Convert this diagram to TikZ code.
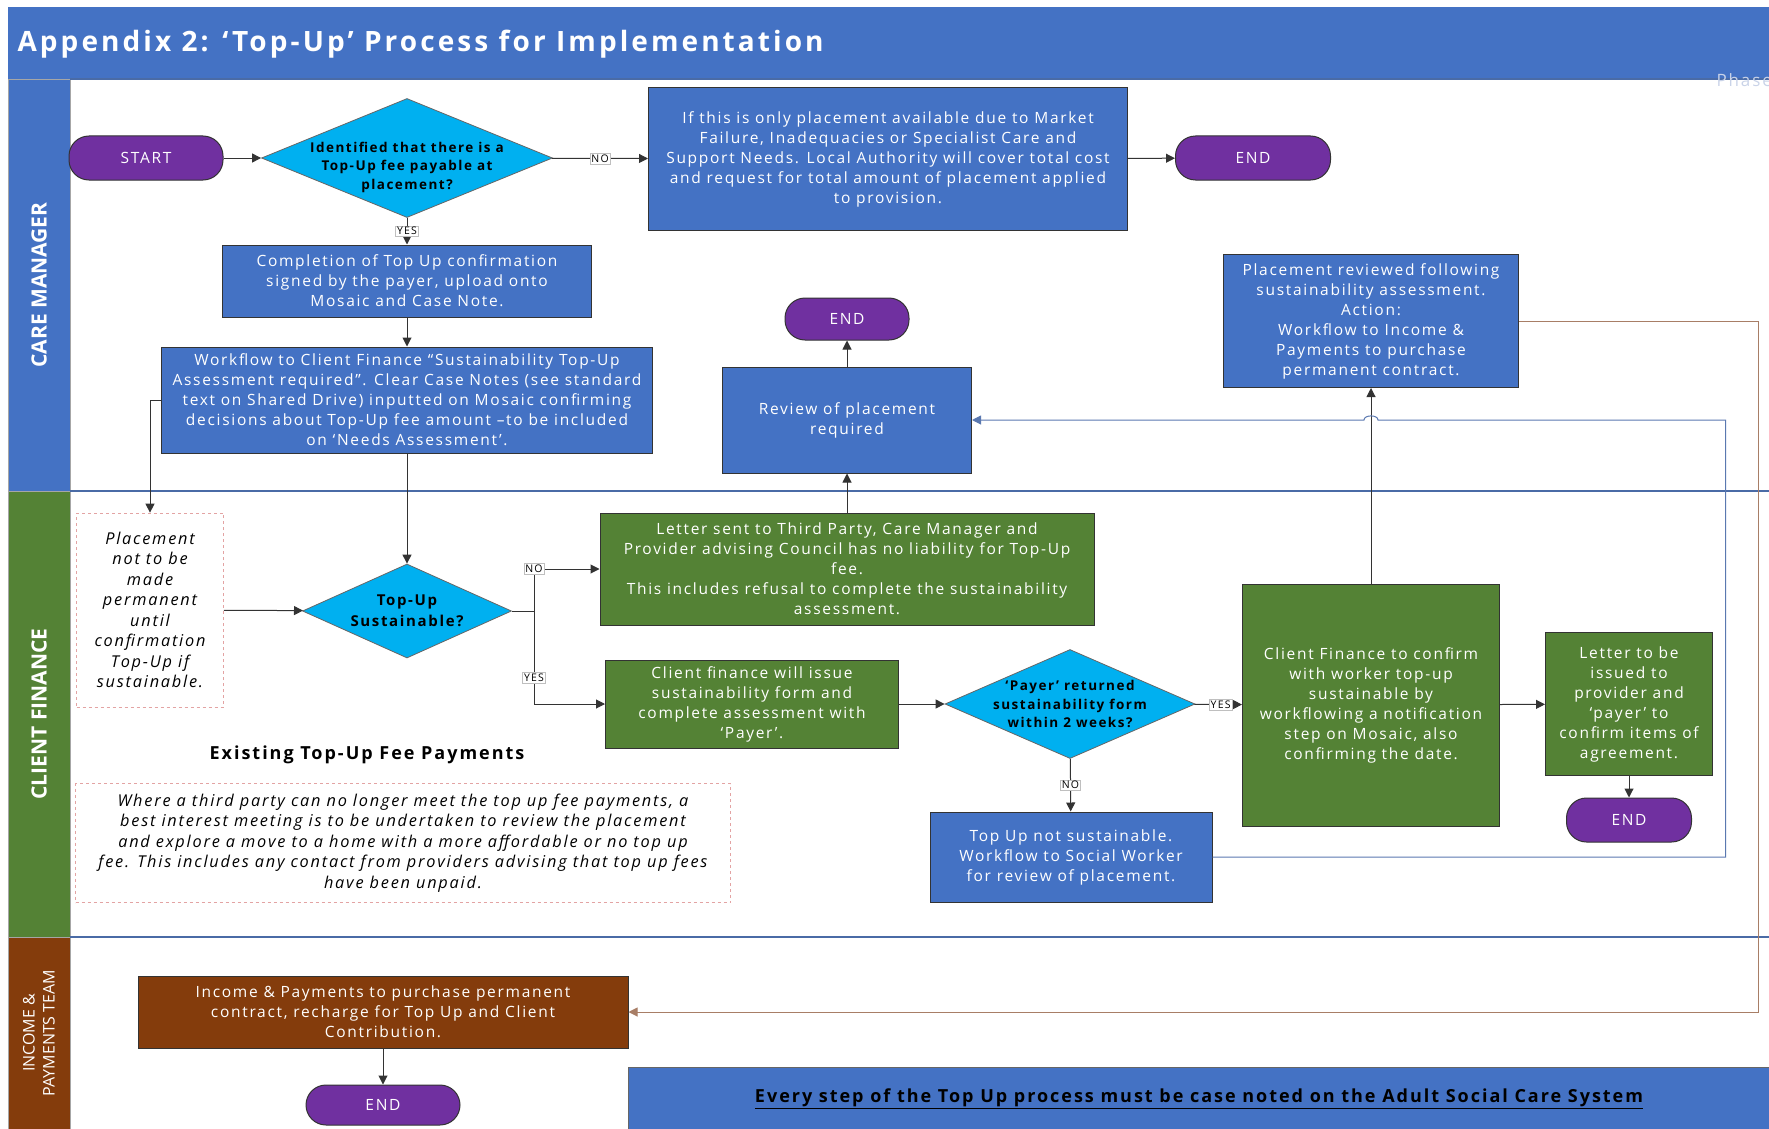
\documentclass[tikz,border=0pt]{standalone}
\usepackage{fontspec}
\setmainfont{Open Sans}[LetterSpace=11]
\newfontfamily\lanefont{Open Sans}
\usetikzlibrary{shapes.geometric,arrows.meta}
\definecolor{cmblue}{HTML}{4472C4}
\definecolor{cfgreen}{HTML}{548235}
\definecolor{ipbrown}{HTML}{843C0C}
\definecolor{endpurple}{HTML}{7030A0}
\definecolor{decblue}{HTML}{00B0F0}
\definecolor{laneline}{HTML}{4A6BA6}
\definecolor{notered}{HTML}{E3A3A3}
\definecolor{backbrown}{HTML}{A87E66}
\definecolor{backblue}{HTML}{5A78B0}
\definecolor{phasegray}{HTML}{C9D3E8}
\begin{document}
\begin{tikzpicture}[x=1pt,y=-1pt,
  box/.style={rectangle,draw=black!80,line width=1pt,fill=cmblue,text=white,align=center,inner sep=0pt,font=\fontsize{15.5}{20}\selectfont},
  gbox/.style={box,fill=cfgreen},
  term/.style={rectangle,rounded corners=20pt,draw=black!80,line width=1pt,fill=endpurple,text=white,font=\fontsize{15.5}{18}\selectfont},
  decide/.style={diamond,draw=black!60,line width=0.8pt,fill=decblue,inner sep=0pt},
  dtext/.style={align=center,text=black,font=\bfseries\fontsize{13.5}{18.5}\selectfont},
  note/.style={rectangle,draw=notered,dashed,line width=0.7pt,align=center,inner sep=0pt,font=\itshape\fontsize{16.3}{20.5}\selectfont},
  flow/.style={draw=black!80,line width=1pt,-{Triangle[length=9pt,width=9pt]}},
  tag/.style={fill=white,draw=black!25,line width=0.4pt,inner sep=1.5pt,font=\fontsize{10.5}{11}\selectfont},
  lanename/.style={rotate=90,text=white,align=center,font=\lanefont\bfseries\fontsize{21}{24}\selectfont}]
\useasboundingbox (0,0) rectangle (1769,1129);
\fill[cmblue] (8,7) rectangle (1769,79);
\draw[fill=cmblue,draw=black!35] (8,79) rectangle (70,491);
\draw[fill=cfgreen,draw=black!35] (8,491) rectangle (70,937);
\draw[fill=ipbrown,draw=black!35] (8,937) rectangle (70,1129);
\draw[laneline,line width=1.5pt] (70,79)--(1769,79) (70,491)--(1769,491) (70,937)--(1769,937);
\node[anchor=west,text=white,font=\bfseries\fontsize{28}{32}\selectfont] (title) at (14,44) {Appendix 2: ‘Top-Up’ Process for Implementation};
\begin{scope}
\clip (1690,60) rectangle (1769,100);
\node[anchor=west,text=phasegray,font=\fontsize{17}{20}\selectfont] (phase) at (1713,80) {Phase};
\end{scope}
\node[lanename] (cmlane) at (39,285) {CARE MANAGER};
\node[lanename] (cflane) at (39,714) {CLIENT FINANCE};
\node[lanename,font=\lanefont\fontsize{16}{20}\selectfont] (iplane) at (39,1033) {INCOME \&\\PAYMENTS TEAM};

\node[term,minimum width=154pt,minimum height=44pt] (start) at (146,158) {START};
\node[decide,minimum width=291pt,minimum height=119pt,label={[dtext,yshift=-9pt]center:Identified that there is a\\Top-Up fee payable at\\placement?}] (d1) at (407,158) {};
\node[box,minimum width=479pt,minimum height=143pt] (market) at (888,159) {If this is only placement available due to Market\\Failure, Inadequacies or Specialist Care and\\Support Needs. Local Authority will cover total cost\\and request for total amount of placement applied\\to provision.};
\node[term,minimum width=155pt,minimum height=44pt] (end1) at (1253,158) {END};
\node[box,minimum width=369pt,minimum height=72pt] (signed) at (407,281) {Completion of Top Up confirmation\\signed by the payer, upload onto\\Mosaic and Case Note.};
\node[box,minimum width=491pt,minimum height=106pt] (workflow) at (407,400) {Workflow to Client Finance “Sustainability Top-Up\\Assessment required”. Clear Case Notes (see standard\\text on Shared Drive) inputted on Mosaic confirming\\decisions about Top-Up fee amount –to be included\\on ‘Needs Assessment’.};
\node[term,minimum width=124pt,minimum height=42pt] (end2) at (847,319) {END};
\node[box,minimum width=249pt,minimum height=106pt] (review) at (847,420) {Review of placement\\required};
\node[box,minimum width=295pt,minimum height=133pt] (reviewed) at (1371,321) {Placement reviewed following\\sustainability assessment.\\Action:\\Workflow to Income \&\\Payments to purchase\\permanent contract.};

\node[note,minimum width=147pt,minimum height=194pt] (notperm) at (150,610) {Placement\\not to be\\made\\permanent\\until\\confirmation\\Top-Up if\\sustainable.};
\node[decide,minimum width=209pt,minimum height=94pt,label={[dtext,font=\bfseries\fontsize{15}{21}\selectfont]center:Top-Up\\Sustainable?}] (d2) at (407,611) {};
\node[gbox,minimum width=494pt,minimum height=112pt] (letter) at (847,569) {Letter sent to Third Party, Care Manager and\\Provider advising Council has no liability for Top-Up\\fee.\\This includes refusal to complete the sustainability\\assessment.};
\node[gbox,minimum width=293pt,minimum height=88pt] (issue) at (752,704) {Client finance will issue\\sustainability form and\\complete assessment with\\‘Payer’.};
\node[decide,minimum width=250pt,minimum height=109pt,label={[dtext]center:‘Payer’ returned\\sustainability form\\within 2 weeks?}] (d3) at (1070,704) {};
\node[gbox,minimum width=257pt,minimum height=242pt] (confirm) at (1371,705) {Client Finance to confirm\\with worker top-up\\sustainable by\\workflowing a notification\\step on Mosaic, also\\confirming the date.};
\node[gbox,minimum width=167pt,minimum height=143pt] (letter2) at (1629,704) {Letter to be\\issued to\\provider and\\‘payer’ to\\confirm items of\\agreement.};
\node[term,minimum width=125pt,minimum height=44pt] (end3) at (1629,820) {END};
\node[box,minimum width=282pt,minimum height=90pt] (notsus) at (1071,857) {Top Up not sustainable.\\Workflow to Social Worker\\for review of placement.};
\node[font=\bfseries\fontsize{18}{22}\selectfont] (existing) at (367,755) {Existing Top-Up Fee Payments};
\node[note,minimum width=655pt,minimum height=119pt] (thirdparty) at (403,843) {Where a third party can no longer meet the top up fee payments, a\\best interest meeting is to be undertaken to review the placement\\and explore a move to a home with a more affordable or no top up\\fee. This includes any contact from providers advising that top up fees\\have been unpaid.};

\node[box,fill=ipbrown,minimum width=490pt,minimum height=72pt] (income) at (383,1012) {Income \& Payments to purchase permanent\\contract, recharge for Top Up and Client\\Contribution.};
\node[term,minimum width=154pt,minimum height=40pt] (end4) at (383,1105) {END};
\node[box,draw=black!60,anchor=north west,minimum width=1141pt,minimum height=62pt,font=\bfseries\fontsize{18}{22}\selectfont,text=black] (casenote) at (628,1067) {\underline{Every step of the Top Up process must be case noted on the Adult Social Care System}};

\draw[flow] (start) -- (d1);
\draw[flow] (d1) -- (market) node[tag,midway] {NO};
\draw[flow] (market) -- (end1);
\draw[flow] (d1) -- (signed) node[tag,midway] {YES};
\draw[flow] (signed) -- (workflow);
\draw[flow] (workflow.west) -| (notperm.north);
\draw[flow] (workflow) -- (d2);
\draw[flow] (notperm) -- (d2);
\coordinate (split) at (534,611);
\draw[flow] (d2.east) -- (split) |- (letter.west) node[tag,pos=0.5] {NO};
\draw[flow] (split) |- (issue.west) node[tag,pos=0.36] {YES};
\draw[flow] (letter) -- (review);
\draw[flow] (review) -- (end2);
\draw[flow] (issue) -- (d3);
\draw[flow] (d3) -- (confirm) node[tag,pos=0.55] {YES};
\draw[flow] (confirm) -- (letter2);
\draw[flow] (letter2) -- (end3);
\draw[flow] (d3) -- (notsus) node[tag,midway] {NO};
\draw[flow] (confirm) -- (reviewed);
\coordinate (hop) at (confirm.north |- review.east);
\draw[flow,draw=backblue] (notsus.east) -- ++(513,0) -- ++(0,-437) -- ([xshift=7pt]hop) to[out=90,in=90] ([xshift=-7pt]hop) -- (review.east);
\draw[flow,draw=backbrown] (reviewed.east) -- ++(239,0) |- (income.east);
\draw[flow] (income) -- (end4);
\end{tikzpicture}
\end{document}
